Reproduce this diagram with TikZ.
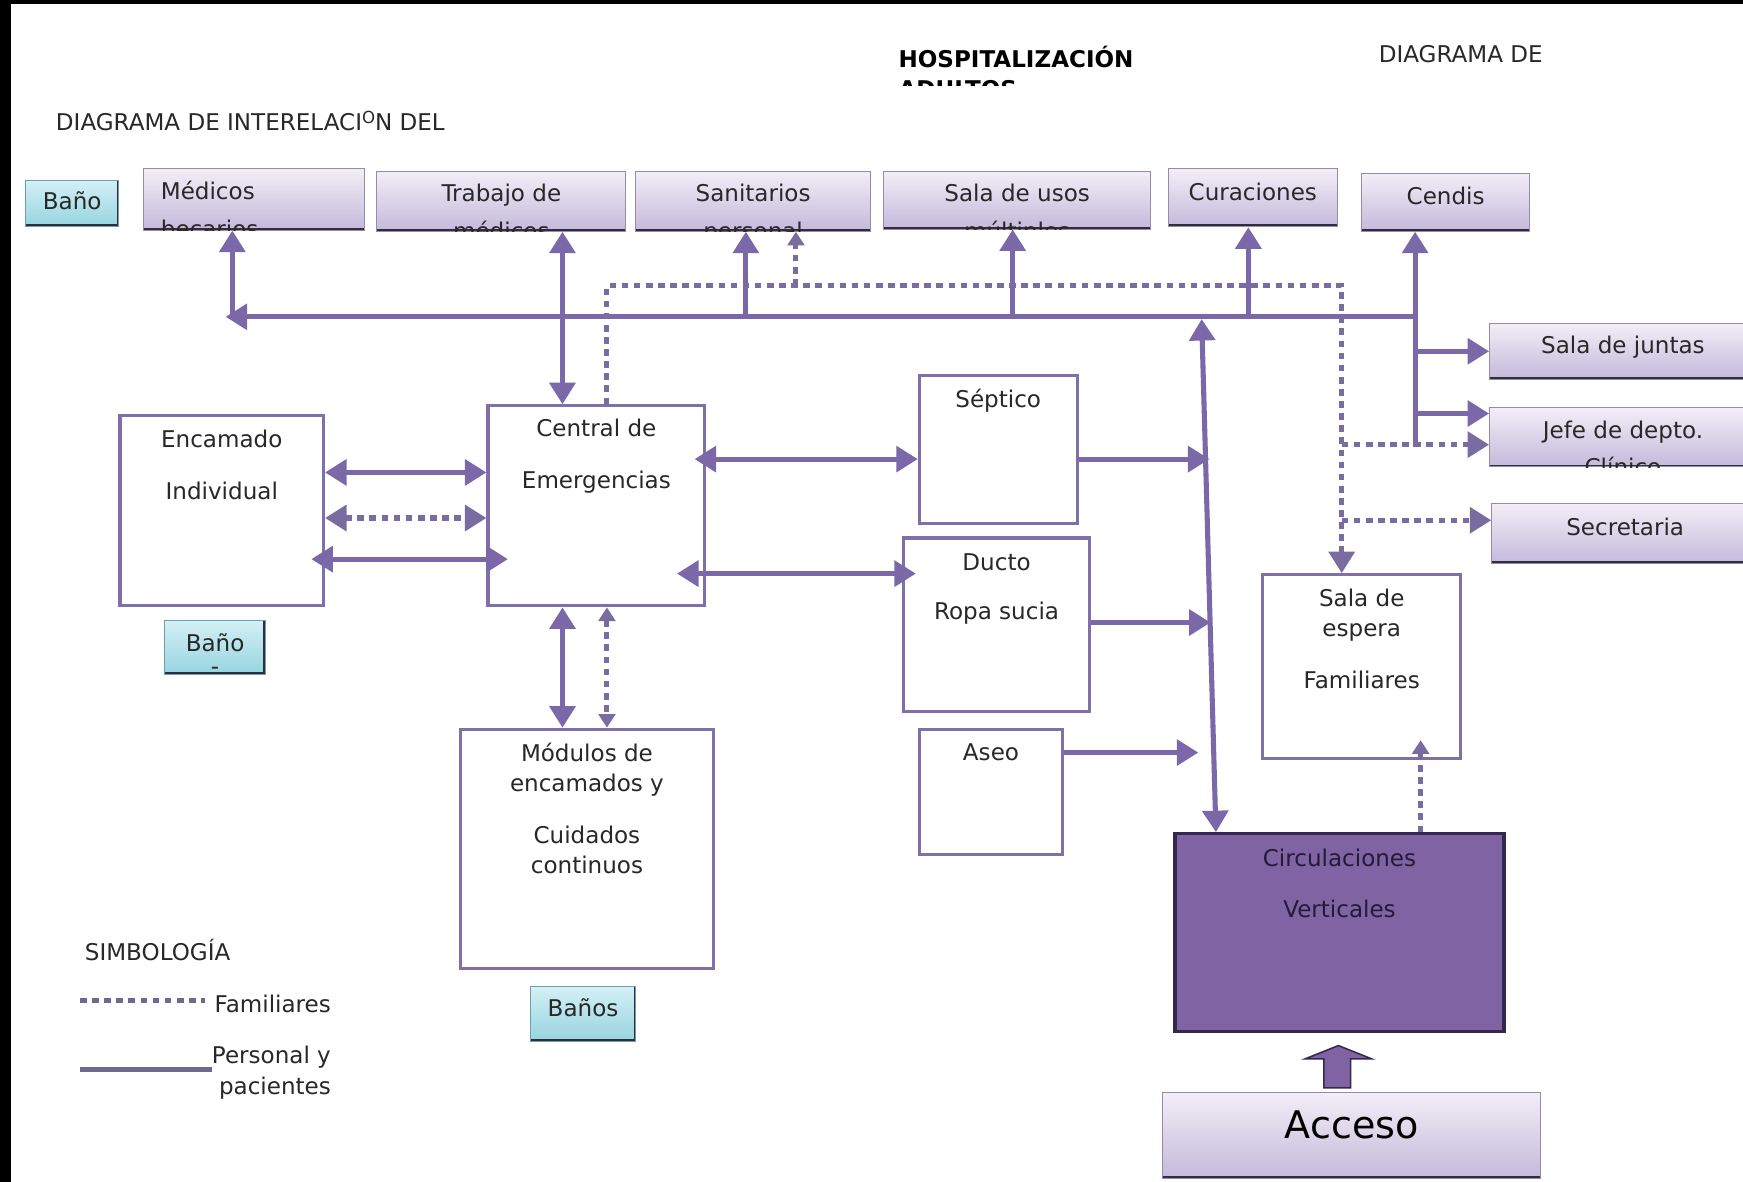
\documentclass[tikz,border=0pt]{standalone}
\usepackage{fontspec}
\setmainfont{DejaVu Sans}
\usetikzlibrary{arrows.meta, positioning, fit, calc}
\definecolor{linecol}{RGB}{122,104,168}
\definecolor{famcol}{RGB}{120,108,160}
\definecolor{roomcol}{RGB}{128,112,170}
\definecolor{tabtop}{RGB}{242,238,247}
\definecolor{tabbot}{RGB}{196,185,219}
\definecolor{tabedge}{RGB}{150,140,170}
\definecolor{tabshadow}{RGB}{50,45,62}
\definecolor{washtop}{RGB}{212,240,245}
\definecolor{washbot}{RGB}{150,212,224}
\definecolor{washedge}{RGB}{110,160,172}
\definecolor{liftfill}{RGB}{127,99,163}
\definecolor{liftedge}{RGB}{52,40,80}
\definecolor{liftink}{RGB}{38,26,58}
\definecolor{ink}{RGB}{40,40,40}
\definecolor{legcol}{RGB}{112,104,142}
\newcommand\roomfont{\fontsize{11.8}{15.4}\selectfont}
\newcommand\bigfont{\fontsize{19.5}{23}\selectfont}
\tikzset{
  Tri/.tip={Triangle[length=11pt,width=13pt]},
  smalltri/.tip={Triangle[length=7pt,width=8.5pt]},
  room/.style={draw=roomcol, line width=1.6pt, fill=white, inner sep=0pt},
  tab/.style={draw=tabedge, line width=0.5pt, top color=tabtop, bottom color=tabbot, inner sep=0pt,
    path picture={\draw[tabshadow, line width=2.4pt]
      (path picture bounding box.south west) -- (path picture bounding box.south east);}},
  wash/.style={draw=washedge, line width=0.5pt, top color=washtop, bottom color=washbot, inner sep=0pt,
    path picture={\draw[tabshadow, line width=2.4pt]
      (path picture bounding box.south west) -- (path picture bounding box.south east)
      -- (path picture bounding box.north east);}},
  lift/.style={draw=liftedge, line width=1.6pt, fill=liftfill, inner sep=0pt},
  lbl/.style={text=ink, align=center, inner sep=0pt, font=\roomfont},
  flow/.style={draw=linecol, line width=2.6pt},
  fam/.style={draw=famcol, line width=2.6pt, dash pattern=on 3.4pt off 2.8pt},
}
\begin{document}
\begin{tikzpicture}[x=0.02cm, y=-0.02cm]
  \useasboundingbox (0,0) rectangle (1568,1063);
  \clip (0,0) rectangle (1568,1063);
  \fill[black] (0,0) rectangle (1568,1063);
  \fill[white] (10,4) rectangle (1568,1063);
  \node[lbl, anchor=base west] (titleL) at (50,117)
      {DIAGRAMA DE INTERELACI\raisebox{3.5pt}{\fontsize{8.5}{8.5}\selectfont O}N DEL};
  \node[lbl, anchor=base west] (titleR) at (1240,56) {DIAGRAMA DE};
  \begin{scope}
    \clip (790,30) rectangle (1100,77);
    \node[lbl, anchor=base west, font=\roomfont\bfseries, text=black] (hosp) at (808,61) {HOSPITALIZACIÓN};
    \node[lbl, anchor=base west, font=\roomfont\bfseries, text=black] (adultos) at (808,88) {ADULTOS};
  \end{scope}
  \node[wash, fit={(23,162) (107,204)}] (bano1) {};
  \node[tab, fit={(129,152) (328,207)}] (medicos) {};
  \node[tab, fit={(339,154) (563,208)}] (trabajo) {};
  \node[tab, fit={(572,154) (783,208)}] (sanitarios) {};
  \node[tab, fit={(795,154) (1035,206)}] (usos) {};
  \node[tab, fit={(1051,152) (1203,204)}] (curaciones) {};
  \node[tab, fit={(1225,156) (1376,208)}] (cendis) {};
  \node[tab, fit={(1340,291) (1580,341)}] (juntas) {};
  \node[tab, fit={(1340,367) (1580,420)}] (jefe) {};
  \node[tab, fit={(1342,453) (1582,507)}] (secretaria) {};
  \node[wash, fit={(148,558) (239,607)}] (bano2) {};
  \node[wash, fit={(477,887) (572,937)}] (banos) {};
  \node[tab, fit={(1046,983) (1386,1060)}] (acceso) {};
  \foreach \nm/\txt/\dy in {bano1/Baño/3.1, curaciones/Curaciones/1.4, cendis/Cendis/0.9,
      juntas/Sala de juntas/0.9, secretaria/Secretaria/0.9, banos/Baños/1.4} {
    \node[lbl, anchor=base] (\nm-txt) at ([yshift=-\dy pt]\nm.center) {\txt};
  }
  \node[lbl, anchor=base, font=\bigfont, text=black] (acceso-txt) at ([yshift=-1.7pt]acceso.center) {Acceso};
  \begin{scope}
    \clip (medicos.south west) rectangle (medicos.north east);
    \node[lbl, align=left, below right=6.3pt and 9pt of medicos.north west] (medicos-txt) {Médicos\\[4pt]becarios};
  \end{scope}
  \foreach \nm/\first/\second in {trabajo/Trabajo de/médicos, sanitarios/Sanitarios/personal,
      usos/Sala de usos/múltiples, jefe/Jefe de depto./Clínico} {
    \begin{scope}
      \clip (\nm.south west) rectangle (\nm.north east);
      \node[lbl, below=6.5pt of \nm.north] (\nm-txt) {\first\\[4pt]\second};
    \end{scope}
  }
  \node[room, fit={(108,374) (291,545)}] (encamado) {};
  \node[lbl, below=8pt of encamado.north] (encamado-txt) {Encamado\\[11.3pt]Individual};
  \node[room, fit={(439,365) (634,545)}] (central) {};
  \node[lbl, below=7.4pt of central.north] (central-txt) {Central de\\[11.3pt]Emergencias};
  \node[room, fit={(827,338) (969,471)}] (septico) {};
  \node[lbl, below=7.5pt of septico.north] (septico-txt) {Séptico};
  \node[room, fit={(813,484) (980,640)}] (ducto) {};
  \node[lbl, below=8.5pt of ducto.north] (ducto-txt) {Ducto\\[10pt]Ropa sucia};
  \node[room, fit={(827,656) (956,769)}] (aseo) {};
  \node[lbl, below=8pt of aseo.north] (aseo-txt) {Aseo};
  \node[room, fit={(414,656) (642,871)}] (modulos) {};
  \node[lbl, below=7.5pt of modulos.north] (modulos-txt) {Módulos de\\encamados y\\[11.3pt]Cuidados\\continuos};
  \node[room, fit={(1136,517) (1314,682)}] (espera) {};
  \node[lbl, below=8pt of espera.north] (espera-txt) {Sala de\\espera\\[11.3pt]Familiares};
  \node[lift, fit={(1057,750) (1353,928)}] (circ) {};
  \node[lbl, text=liftink, below=8.5pt of circ.north] (circ-txt) {Circulaciones\\[10.5pt]Verticales};
  \node[lbl, below=7pt of bano2.north] (bano2-txt) {Baño\\[-4pt]-};
  \coordinate (upB) at ($(acceso.north)+(-25,-4)$);
  \draw[draw=liftedge, fill=liftfill, line width=0.8pt]
      (upB) -- ++(0,-26) -- ++(-17,0) -- ++(30,-12) -- ++(30,12) -- ++(-19,0) -- ++(0,26) -- cycle;
  \coordinate (busL) at (203,285);
  \coordinate (busR) at (1273,285);
  \draw[flow, -Tri] (busR) -- (busL);
  \foreach \nm/\x in {medicos/209, sanitarios/671, usos/911, curaciones/1123} {
    \coordinate (tap-\nm) at (\x,287);
    \draw[flow, -Tri] (tap-\nm) -- (tap-\nm |- \nm.south);
  }
  \coordinate (tapT) at (506,285);
  \draw[flow, Tri-Tri] (central.north -| tapT) -- (trabajo.south -| tapT);
  \draw[flow, Tri-Tri] (central.south -| tapT) -- (modulos.north -| tapT);
  \coordinate (cdLow) at (1273,402);
  \draw[flow, -Tri] (cdLow) -- (cendis.south -| cdLow);
  \draw[flow, -Tri] (juntas.west -| cdLow) -- (juntas.west);
  \coordinate (jefeIn) at (1273,372);
  \draw[flow, -Tri] (jefeIn) -- (jefeIn -| jefe.west);
  \coordinate (cvTop) at (1081,287);
  \draw[flow, Tri-Tri] (cvTop) -- ($(circ.north west)!0.128!(circ.north east)$);
  \coordinate (dropS) at (1088,413);
  \coordinate (dropD) at (1089,560);
  \coordinate (dropA) at (1078,677);
  \draw[flow, -Tri] (septico.east |- dropS) -- (dropS);
  \draw[flow, -Tri] (ducto.east |- dropD) -- (dropD);
  \draw[flow, -Tri] (aseo.east |- dropA) -- (dropA);
  \draw[flow, Tri-Tri, shorten <=-6pt] (central.east |- dropS) -- (septico.west |- dropS);
  \draw[flow, Tri-Tri, shorten <=-15pt, shorten >=-7pt] (central.east |- 0,516) -- (ducto.west |- 0,516);
  \draw[flow, Tri-Tri] (encamado.east |- 0,425) -- (central.west |- 0,425);
  \draw[fam, Tri-Tri] (encamado.east |- 0,466) -- (central.west |- 0,466);
  \draw[flow, Tri-Tri, shorten <=-7pt, shorten >=-11pt] (encamado.east |- 0,503) -- (central.west |- 0,503);
  \coordinate (famL) at (546,257);
  \coordinate (famR) at (1207,257);
  \coordinate (famS) at (716,257);
  \draw[fam, smalltri-smalltri] (central.south -| famL) -- (modulos.north -| famL);
  \draw[fam, -Tri] (central.north -| famL) -- (famL) -- (famR) -- (espera.north -| famR);
  \draw[fam, -smalltri] (famS) -- (sanitarios.south -| famS);
  \coordinate (famJ) at (1207,400);
  \coordinate (famSe) at (1207,468);
  \draw[fam, -Tri] (famJ) -- (famJ -| jefe.west);
  \draw[fam, -Tri] (famSe) -- (famSe -| secretaria.west);
  \draw[fam, -smalltri, shorten >=-10pt] (circ.north -| 1278,0) -- (espera.south -| 1278,0);
  \node[lbl, anchor=base west] (simb) at (76,864) {SIMBOLOGÍA};
  \node[lbl, anchor=base east] (famT) at (298,911) {Familiares};
  \node[lbl, anchor=north east, align=right] (perT) at (298,941) {Personal y\\pacientes};
  \coordinate (legF) at (72,900);
  \coordinate (legP) at (72,962);
  \draw[fam, draw=legcol, line width=2.4pt, shorten >=5pt] (legF) -- (legF -| famT.west);
  \draw[draw=legcol, line width=2.8pt] (legP) -- (legP -| perT.west);
\end{tikzpicture}
\end{document}
